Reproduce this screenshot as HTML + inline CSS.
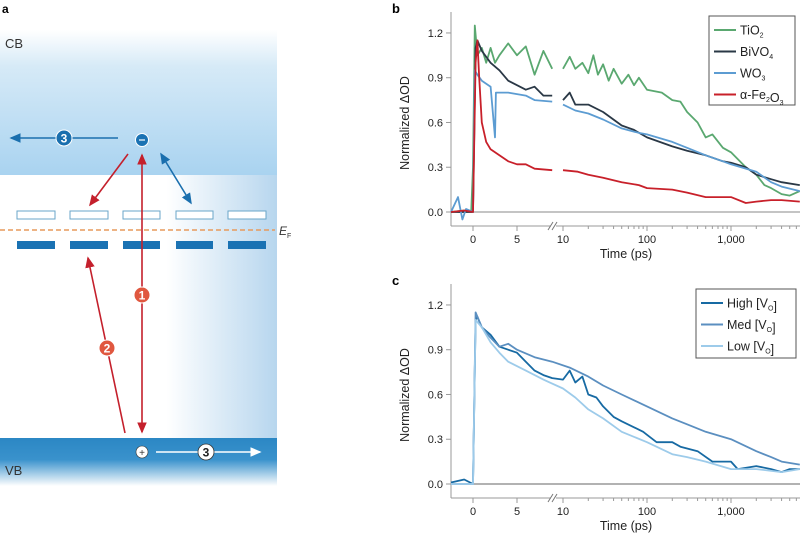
<!DOCTYPE html>
<html><head><meta charset="utf-8"><style>
html,body{margin:0;padding:0;background:#fff;}
svg{display:block;font-family:"Liberation Sans",sans-serif;}
</style></head><body>
<svg id="fig" width="800" height="540" viewBox="0 0 800 540" xmlns="http://www.w3.org/2000/svg">
<defs>
<linearGradient id="cbg" x1="0" y1="0" x2="0" y2="1">
<stop offset="0" stop-color="#fff"/><stop offset="0.25" stop-color="#d6eaf7"/><stop offset="1" stop-color="#a9d3f0"/></linearGradient>
<linearGradient id="midg" x1="0" y1="0" x2="1" y2="0">
<stop offset="0" stop-color="#fff"/><stop offset="0.6" stop-color="#fff"/><stop offset="1" stop-color="#b7d6ee"/></linearGradient>
<linearGradient id="vbg" x1="0" y1="0" x2="0" y2="1">
<stop offset="0" stop-color="#2b87c4"/><stop offset="0.45" stop-color="#3a92cc"/><stop offset="1" stop-color="#fff"/></linearGradient>
<marker id="ar" markerWidth="8" markerHeight="8" refX="6" refY="3" orient="auto-start-reverse"><path d="M0,0 L7,3 L0,6 z" fill="#c4202c"/></marker>
<marker id="ab" markerWidth="8" markerHeight="8" refX="6" refY="3" orient="auto-start-reverse"><path d="M0,0 L7,3 L0,6 z" fill="#1a6fae"/></marker>
<marker id="aw" markerWidth="8" markerHeight="8" refX="6" refY="3" orient="auto-start-reverse"><path d="M0,0 L7,3 L0,6 z" fill="#fff"/></marker>
</defs>
<g>
<text x="2" y="13" font-size="12" font-weight="bold">a</text>
<rect x="0" y="30" width="277" height="145" fill="url(#cbg)"/>
<rect x="0" y="175" width="277" height="263" fill="url(#midg)"/>
<rect x="0" y="438" width="277" height="48" fill="url(#vbg)"/>
<text x="5" y="48" font-size="13" fill="#333">CB</text>
<text x="5" y="475" font-size="13" fill="#333">VB</text>
<g fill="#fff" stroke="#6aa6c8" stroke-width="1">
<rect x="17" y="211" width="38" height="8"/><rect x="70" y="211" width="38" height="8"/><rect x="123" y="211" width="37" height="8"/><rect x="176" y="211" width="37" height="8"/><rect x="228" y="211" width="38" height="8"/></g>
<line x1="0" y1="230" x2="275" y2="230" stroke="#e79a5c" stroke-width="1.5" stroke-dasharray="5,3"/>
<text x="279" y="235" font-size="12" font-style="italic" fill="#333">E<tspan font-size="7" font-style="normal" dy="3">F</tspan></text>
<g fill="#1a72b3">
<rect x="17" y="241" width="38" height="8"/><rect x="70" y="241" width="38" height="8"/><rect x="123" y="241" width="37" height="8"/><rect x="176" y="241" width="37" height="8"/><rect x="228" y="241" width="38" height="8"/></g>
<line x1="142" y1="155" x2="142" y2="432" stroke="#c4202c" stroke-width="1.6" marker-start="url(#ar)" marker-end="url(#ar)"/>
<line x1="125" y1="433" x2="88" y2="258" stroke="#c4202c" stroke-width="1.6" marker-end="url(#ar)"/>
<line x1="128" y1="154" x2="90" y2="205" stroke="#c4202c" stroke-width="1.6" marker-end="url(#ar)"/>
<line x1="161" y1="154" x2="191" y2="203" stroke="#1a6fae" stroke-width="1.6" marker-start="url(#ab)" marker-end="url(#ab)"/>
<line x1="118" y1="138" x2="11" y2="138" stroke="#1a6fae" stroke-width="1.6" marker-end="url(#ab)"/>
<circle cx="64" cy="138" r="8" fill="#1a6fae" stroke="#fff" stroke-width="1"/>
<text x="64" y="142.5" font-size="12" font-weight="bold" fill="#fff" text-anchor="middle">3</text>
<circle cx="142" cy="140" r="6.5" fill="#1a72b3" stroke="#fff"/>
<line x1="139" y1="140" x2="145" y2="140" stroke="#fff" stroke-width="1.2"/>
<circle cx="142" cy="295" r="8" fill="#e0573f" stroke="#fff"/>
<text x="142" y="299.5" font-size="12" font-weight="bold" fill="#fff" text-anchor="middle">1</text>
<circle cx="107" cy="348" r="8" fill="#e0573f" stroke="#fff"/>
<text x="107" y="352.5" font-size="12" font-weight="bold" fill="#fff" text-anchor="middle">2</text>
<line x1="156" y1="452" x2="260" y2="452" stroke="#fff" stroke-width="1.6" marker-end="url(#aw)"/>
<circle cx="142" cy="452" r="6" fill="#fff" stroke="#333" stroke-width="0.6"/>
<text x="142" y="456" font-size="10" text-anchor="middle" fill="#333">+</text>
<circle cx="206" cy="452" r="8" fill="#fff" stroke="#333" stroke-width="0.8"/>
<text x="206" y="456.5" font-size="12" font-weight="bold" fill="#222" text-anchor="middle">3</text>
</g>
<g id="pb"></g>
<g id="pc"></g>
</svg>
<script>
// ---- Panel b data (t in ps, normalized ΔOD) ----
const tio2T = [-2.5,-1,-0.2,0,0.2,0.5,1,1.5,2,2.5,3,4,5,6,7,8,9, 10,12,14,17,20,23,26,30,35,40,50,60,70,80,100,150,200,250,300,400,500,600,800,1000,1500,2000,2500,3000,4000,5000,6600];
const tio2V = [0,0.01,0,0.3,1.25,1.05,1.1,1.0,1.1,1.0,1.05,1.13,1.05,1.11,0.92,1.08,0.96, 0.96,1.04,0.96,1.0,0.93,1.05,0.92,0.99,0.88,0.96,0.86,0.92,0.85,0.9,0.82,0.8,0.75,0.74,0.67,0.6,0.5,0.52,0.43,0.4,0.3,0.25,0.18,0.16,0.12,0.11,0.14];
const bivo4T = [-2.5,-1,0,0.3,0.5,1,2,3,4,5,6,7,8,9, 10,12,14,20,30,50,70,100,200,300,500,800,1000,1500,2000,3000,4000,6600];
const bivo4V = [0,0,0,1.1,1.15,1.08,1.0,0.95,0.88,0.85,0.82,0.84,0.78,0.78, 0.75,0.8,0.72,0.72,0.67,0.58,0.55,0.5,0.44,0.41,0.38,0.34,0.33,0.3,0.25,0.22,0.2,0.18];
const wo3T = [-2.5,-1.7,-1.2,-0.8,0,0.2,0.5,1,1.5,2,2.5,2.6,4,6,7,9, 10,14,20,30,50,80,100,200,300,500,800,1000,2000,3000,4000,6600];
const wo3V = [0,0.1,-0.05,0.02,0,0.95,0.92,0.88,0.86,0.84,0.5,0.8,0.8,0.78,0.75,0.74, 0.72,0.68,0.66,0.62,0.56,0.53,0.52,0.47,0.43,0.38,0.34,0.32,0.27,0.2,0.17,0.14];
const fe2o3T = [-2.5,-1,0,0.3,0.5,0.7,1,1.5,2,3,4,5,6,7,9, 10,15,20,30,50,80,100,200,300,500,1000,1500,2000,3000,4000,6600];
const fe2o3V = [0,0.01,0,1.0,1.15,0.9,0.6,0.47,0.42,0.38,0.34,0.32,0.32,0.29,0.28, 0.28,0.27,0.25,0.23,0.2,0.18,0.16,0.15,0.13,0.1,0.1,0.06,0.07,0.08,0.08,0.07];
// ---- Panel c data ----
const highT = [-2.5,-1,0,0.3,0.5,1,2,3,4,5,6,7,8,9,10,12,14,17,20,25,30,40,50,70,90,100,130,200,250,400,600,800,1000,1200,2000,3000,4000,5000,6600];
const highV = [0.01,0.03,0,1.1,1.12,1.05,1.0,0.92,0.9,0.88,0.82,0.76,0.73,0.71,0.7,0.76,0.68,0.72,0.6,0.58,0.52,0.45,0.42,0.38,0.35,0.33,0.28,0.28,0.25,0.22,0.15,0.15,0.15,0.1,0.12,0.1,0.08,0.1,0.1];
const medT = [-2.5,0,0.3,1,2,3,4,5,7,9,12,20,30,50,100,200,300,500,1000,2000,3000,4000,6600];
const medV = [0,0,1.15,1.05,0.98,0.92,0.94,0.9,0.85,0.82,0.78,0.72,0.66,0.6,0.52,0.44,0.4,0.35,0.3,0.22,0.18,0.15,0.13];
const lowT = [-2.5,0,0.3,1,2,3,4,6,8,10,14,20,30,50,100,200,300,500,1000,2000,4000,6600];
const lowV = [0,0,1.1,1.05,0.95,0.88,0.82,0.76,0.7,0.64,0.58,0.5,0.44,0.35,0.28,0.2,0.18,0.15,0.1,0.1,0.08,0.1];
const yTicks = [0,0.3,0.6,0.9,1.2];
const yTickLabels = ["0.0","0.3","0.6","0.9","1.2"];
const xTicks = [0,5,10,100,1000];
const xTickLabels = ["0","5","10","100","1,000"];

const NS="http://www.w3.org/2000/svg";
function xScale(t){ return t<=9.5 ? 473 + t*8.8 : 563 + (Math.log10(t)-1)*84; }
function mk(tag,attrs,parent){const e=document.createElementNS(NS,tag);for(const k in attrs)e.setAttribute(k,attrs[k]);parent.appendChild(e);return e;}

function drawPanel(g, y0, label, series, legend, breakGap, zeroCol, legBox){
  const yScale = v => y0 - v*149.2;
  const axisY = y0+14;
  const t1=mk('text',{x:392,y:y0-199,'font-size':13,'font-weight':'bold'},g);t1.textContent=label;
  
  
  const ya=mk('line',{x1:451,y1:y0-200,x2:451,y2:axisY,stroke:'#999','stroke-width':1},g);
  
  
  yTicks.forEach((v,i)=>{
    mk('line',{x1:446,x2:451,y1:yScale(v),y2:yScale(v),stroke:'#999'},g);
    const t=mk('text',{x:443,y:yScale(v)+4,'font-size':11,'text-anchor':'end',fill:'#222'},g);
    t.textContent=yTickLabels[i];
    
    
  });
  const yl=mk('text',{transform:`translate(409,${y0-89}) rotate(-90)`,'font-size':12.5,'text-anchor':'middle',fill:'#222'},g);
  yl.textContent='Normalized ΔOD';
  
  
  const zl=mk('line',{x1:451,x2:800,y1:y0,y2:y0,stroke:zeroCol,'stroke-width':breakGap?1.8:1},g);
  
  
  const xa1=mk('line',{x1:451,x2:551,y1:axisY,y2:axisY,stroke:'#999'},g);
  
  
  const xa2=mk('line',{x1:556,x2:800,y1:axisY,y2:axisY,stroke:'#999'},g);
  
  
  mk('path',{d:`M548,${axisY+4} L553,${axisY-4} M552,${axisY+4} L557,${axisY-4}`,stroke:'#777',fill:'none'},g);
  xTicks.forEach((v,i)=>{
    mk('line',{x1:xScale(v),x2:xScale(v),y1:axisY,y2:axisY+5,stroke:'#999'},g);
    const t=mk('text',{x:xScale(v),y:axisY+17,'font-size':11,'text-anchor':'middle',fill:'#222'},g);
    t.textContent=xTickLabels[i];
    
    
  });
  for(let d=10;d<=1000;d*=10){for(let m=2;m<=9;m++){const x=xScale(d*m);if(x<800)mk('line',{x1:x,x2:x,y1:axisY,y2:axisY+3,stroke:'#999'},g);}}
  const xl=mk('text',{x:626,y:axisY+32,'font-size':12.5,'text-anchor':'middle',fill:'#222'},g);
  xl.textContent='Time (ps)';
  
  
  series.forEach(s=>{
    let segs=[[]];
    s.t.forEach((t,i)=>{
      if(breakGap && t>=10 && segs.length===1) segs.push([]);
      segs[segs.length-1].push(xScale(t).toFixed(1)+','+yScale(s.v[i]).toFixed(1));
    });
    segs.forEach(sg=>{ if(!sg.length) return;
      const p=mk('polyline',{points:sg.join(' '),fill:'none',stroke:s.c,'stroke-width':1.8,'stroke-linejoin':'round'},g);
      
      
    });
  });
  const lb=mk('rect',{x:legBox[0],y:legBox[1],width:legBox[2],height:legBox[3],fill:'#fff',stroke:'#555','stroke-width':1},g);
  
  
  legend.forEach((L,i)=>{
    const yy=legBox[1]+14+i*21.5;
    mk('line',{x1:legBox[0]+5,x2:legBox[0]+27,y1:yy,y2:yy,stroke:series[i].c,'stroke-width':2},g);
    const t=mk('text',{x:legBox[0]+31,y:yy+4.5,'font-size':12.5,fill:'#222'},g);
    t.innerHTML=L;
    
    
  });
}
const sub=s=>`<tspan font-size="7" dy="3">${s}</tspan><tspan dy="-3"></tspan>`;
drawPanel(document.getElementById('pb'),212,'b',[
  {n:'tio2',t:tio2T,v:tio2V,c:'#5aa870'},
  {n:'bivo4',t:bivo4T,v:bivo4V,c:'#2a3846'},
  {n:'wo3',t:wo3T,v:wo3V,c:'#5c9cd2'},
  {n:'fe2o3',t:fe2o3T,v:fe2o3V,c:'#c8202a'}],
  ['TiO'+sub('2'),'BiVO'+sub('4'),'WO'+sub('3'),'α-Fe'+sub('2')+'O'+sub('3')],true,'#bbb',[709,16,86,89]);
drawPanel(document.getElementById('pc'),484,'c',[
  {n:'high',t:highT,v:highV,c:'#176aa3'},
  {n:'med',t:medT,v:medV,c:'#5b8fc0'},
  {n:'low',t:lowT,v:lowV,c:'#9dcbea'}],
  ['High [V'+sub('O')+']','Med [V'+sub('O')+']','Low [V'+sub('O')+']'],false,'#666',[696,289,100,69]);
</script>
</body></html>
